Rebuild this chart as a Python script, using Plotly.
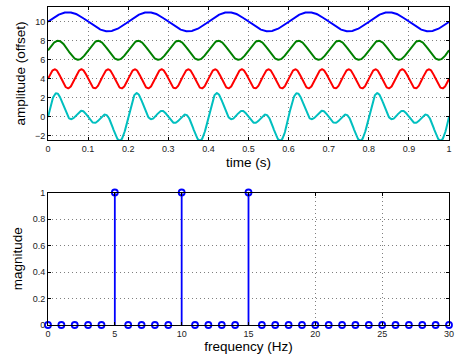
import numpy as np
import plotly.graph_objects as go
from plotly.subplots import make_subplots

# ---- data ----
component_freqs_hz = [5, 10, 15]          # sine components, amplitude 1 each
component_offsets = [10, 7, 4]            # vertical offsets of the single tones
sum_offset = 0                            # offset of the summed signal
series_colors = ["#0000FF", "#008000", "#FF0000", "#00BFBF"]

spectrum_freqs = list(range(0, 31))
spectrum_mag = [0, 0, 0, 0, 0, 1, 0, 0, 0, 0, 1, 0, 0, 0, 0, 1,
                0, 0, 0, 0, 0, 0, 0, 0, 0, 0, 0, 0, 0, 0, 0]

time_ticks = [0, 0.1, 0.2, 0.3, 0.4, 0.5, 0.6, 0.7, 0.8, 0.9, 1]
time_tick_text = ["0", "0.1", "0.2", "0.3", "0.4", "0.5", "0.6", "0.7", "0.8", "0.9", "1"]
amp_ticks = [-2, 0, 2, 4, 6, 8, 10]
freq_ticks = [0, 5, 10, 15, 20, 25, 30]
mag_ticks = [0, 0.2, 0.4, 0.6, 0.8, 1]
mag_tick_text = ["0", "0.2", "0.4", "0.6", "0.8", "1"]

# ---- figure ----
t = np.linspace(0, 1, 1001)
fig = make_subplots(rows=2, cols=1)

total = np.zeros_like(t)
for f, off, col in zip(component_freqs_hz, component_offsets, series_colors):
    s = np.sin(2 * np.pi * f * t)
    total += s
    fig.add_trace(go.Scatter(x=t, y=s + off, mode="lines",
                             line=dict(color=col, width=2), showlegend=False), row=1, col=1)
fig.add_trace(go.Scatter(x=t, y=total + sum_offset, mode="lines",
                         line=dict(color=series_colors[3], width=2), showlegend=False), row=1, col=1)

# stems
sx, sy = [], []
for f, m in zip(spectrum_freqs, spectrum_mag):
    if m != 0:
        sx += [f, f, None]
        sy += [0, m, None]
fig.add_trace(go.Scatter(x=sx, y=sy, mode="lines", line=dict(color="#0000FF", width=1.8),
                         showlegend=False), row=2, col=1)
fig.add_trace(go.Scatter(x=spectrum_freqs, y=spectrum_mag, mode="markers",
                         marker=dict(symbol="circle-open", size=6, color="#0000FF",
                                     line=dict(width=1.8, color="#0000FF")),
                         cliponaxis=False, showlegend=False), row=2, col=1)

tickfont = dict(family="Liberation Sans, Arial, sans-serif", size=9, color="#222222")
titlefont = dict(family="Liberation Sans, Arial, sans-serif", size=13.5, color="black")
common = dict(showline=True, linecolor="black", linewidth=1, mirror="ticks",
              ticks="inside", ticklen=3, tickcolor="black", tickwidth=1,
              showgrid=True, gridcolor="rgba(0,0,0,0.5)", griddash="1px,3px", gridwidth=1,
              zeroline=False, tickfont=tickfont, ticklabeloverflow="allow")

fig.update_xaxes(**common)
fig.update_yaxes(**common)

fig.update_layout(
    width=456, height=358,
    margin=dict(l=48, r=2, t=5, b=33),
    plot_bgcolor="white", paper_bgcolor="white",
    xaxis=dict(domain=[0, 1], range=[0, 1], tickvals=time_ticks, ticktext=time_tick_text,
               title=dict(text="time (s)", font=titlefont, standoff=4)),
    yaxis=dict(domain=[0.582, 1], range=[-2.42, 11.55], tickvals=amp_ticks,
               title=dict(text="amplitude (offset)", font=titlefont, standoff=6)),
    xaxis2=dict(domain=[0, 1], range=[0, 30], tickvals=freq_ticks,
                title=dict(text="frequency (Hz)", font=titlefont, standoff=2)),
    yaxis2=dict(domain=[0, 0.4166], range=[0, 1], tickvals=mag_ticks, ticktext=mag_tick_text,
                title=dict(text="magnitude", font=titlefont, standoff=6)),
)

fig.write_html("out.html")
